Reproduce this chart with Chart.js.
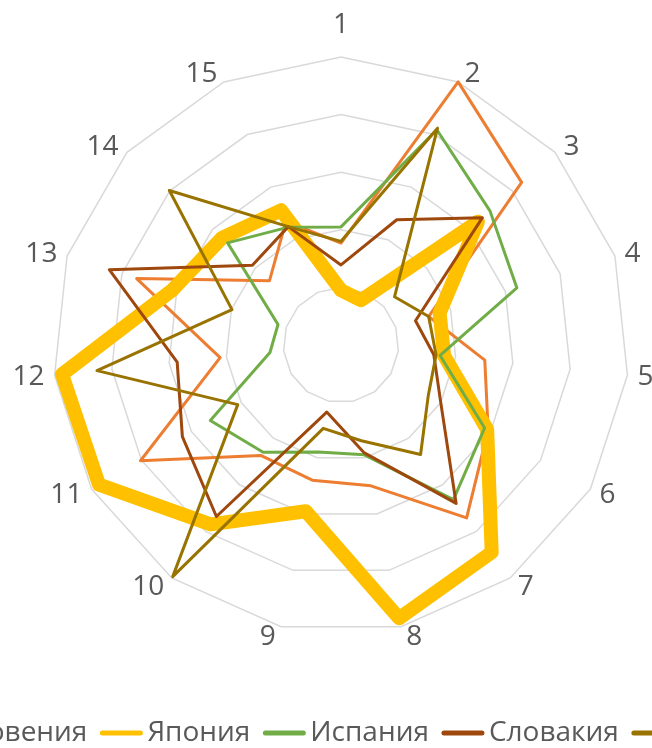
<!DOCTYPE html>
<html>
<head>
<meta charset="utf-8">
<script src="https://cdn.jsdelivr.net/npm/chart.js@4.4.0/dist/chart.umd.min.js"></script>
<style>
  html, body { margin: 0; padding: 0; background: #ffffff; overflow: hidden; }
  #wrap { position: relative; width: 652px; height: 748px; }
</style>
</head>
<body>
<div id="wrap"><canvas id="chart" width="652" height="748"></canvas></div>
<script>
// Axis categories (15 indicators)
const categories = ['1', '2', '3', '4', '5', '6', '7', '8', '9', '10', '11', '12', '13', '14', '15'];

// Series values, one per category
const slovenia = [1.77, 5.0, 4.22, 1.6, 2.51, 2.95, 3.71, 2.5, 2.4, 2.37, 4.02, 2.11, 3.73, 1.67, 2.35];
const japan    = [0.95, 0.85, 3.2, 1.8, 1.8, 2.93, 4.45, 4.85, 2.95, 3.85, 4.85, 4.87, 3.08, 2.78, 2.56];
const spain    = [2.05, 4.09, 3.48, 3.21, 1.73, 2.88, 3.32, 1.95, 1.9, 2.3, 2.62, 1.24, 1.15, 2.65, 2.24];
const slovakia = [1.39, 2.38, 3.3, 1.36, 1.62, 2.0, 3.4, 1.91, 1.19, 3.68, 3.18, 2.86, 4.23, 2.07, 2.25];
const czechia  = [1.8, 4.12, 1.25, 1.6, 1.66, 1.75, 2.35, 1.7, 1.48, 4.97, 2.07, 4.26, 1.99, 4.01, 2.25];

const seriesNames = ['Словения', 'Япония', 'Испания', 'Словакия', 'Чехия'];
const seriesData = [slovenia, japan, spain, slovakia, czechia];
const seriesColors = ['#ED7D31', '#FFC000', '#70AD47', '#9E480E', '#997300'];
const seriesWidths = [3, 14, 3, 3, 3];

const FONT = '"Open Sans", "Noto Sans", sans-serif';
const TEXT_COLOR = '#595959';

// Category labels around the web, placed just outside the outer ring
const axisLabels = {
  id: 'axisLabels',
  afterDraw(chart) {
    const scale = chart.scales.r;
    const ctx = chart.ctx;
    ctx.save();
    ctx.font = '28px ' + FONT;
    ctx.fillStyle = TEXT_COLOR;
    ctx.textAlign = 'center';
    ctx.textBaseline = 'middle';
    chart.data.labels.forEach((lab, i) => {
      const a = scale.getIndexAngle(i);
      const s = Math.sin(a);
      const c = Math.cos(a);
      const p = scale.getPointPosition(i, scale.drawingArea + 6);
      const w = ctx.measureText(lab).width;
      let x = p.x, y = p.y - c * 4;
      if (Math.abs(s) < 0.01) {
        y -= 23;
      } else {
        x += Math.sign(s) * (w / 2 + 4);
      }
      ctx.fillText(lab, x, y + 1);
    });
    ctx.restore();
  }
};

// Single-row legend under the chart, centred on a fixed x
const rowLegend = {
  id: 'rowLegend',
  afterDraw(chart) {
    const ctx = chart.ctx;
    const Y = 733, MARK = 44, GAP = 4, ITEM_GAP = 12, CX = 334;
    ctx.save();
    ctx.font = '28px ' + FONT;
    ctx.textBaseline = 'middle';
    ctx.textAlign = 'left';
    const items = chart.data.datasets.map(ds => ({
      text: ds.label, color: ds.borderColor, w: ctx.measureText(ds.label).width
    }));
    const total = items.reduce((acc, it) => acc + MARK + GAP + it.w, 0) + ITEM_GAP * (items.length - 1);
    let x = CX - total / 2;
    items.forEach(it => {
      ctx.strokeStyle = it.color;
      ctx.lineWidth = 5;
      ctx.lineCap = 'round';
      ctx.beginPath();
      ctx.moveTo(x + 3, Y);
      ctx.lineTo(x + MARK - 3, Y);
      ctx.stroke();
      x += MARK + GAP;
      ctx.fillStyle = TEXT_COLOR;
      ctx.fillText(it.text, x, Y);
      x += it.w + ITEM_GAP;
    });
    ctx.restore();
  }
};

const datasets = seriesNames.map((name, i) => ({
  label: name,
  data: seriesData[i],
  borderColor: seriesColors[i],
  backgroundColor: seriesColors[i],
  borderWidth: seriesWidths[i],
  borderJoinStyle: 'round',
  fill: false,
  pointRadius: 0,
  pointHoverRadius: 0,
  tension: 0,
  order: seriesNames.length - i
}));

new Chart(document.getElementById('chart'), {
  type: 'radar',
  data: { labels: categories, datasets },
  options: {
    responsive: false,
    animation: false,
    devicePixelRatio: 1,
    layout: { padding: { left: 53, right: 23, top: 57, bottom: 115 } },
    plugins: { legend: { display: false }, tooltip: { enabled: false } },
    scales: {
      r: {
        min: 0,
        max: 5,
        ticks: { display: false, stepSize: 1 },
        grid: { color: '#D9D9D9', lineWidth: 1.5, circular: false },
        angleLines: { display: false },
        pointLabels: { display: false }
      }
    }
  },
  plugins: [axisLabels, rowLegend]
});
</script>
</body>
</html>
